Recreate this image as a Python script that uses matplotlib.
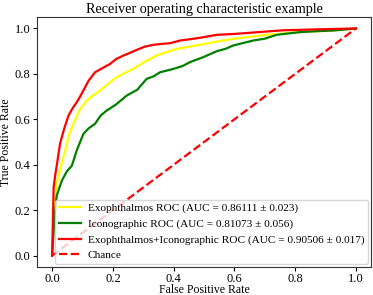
import numpy as np
import matplotlib.pyplot as plt

plt.rcParams['font.family'] = ['Liberation Serif', 'DejaVu Serif']

# ROC curves
fpr_exo = [0.0, 0.005, 0.015, 0.03, 0.043, 0.055, 0.070, 0.09, 0.114, 0.135, 0.158, 0.185, 0.213, 0.24,
           0.267, 0.30, 0.344, 0.38, 0.410, 0.45, 0.487, 0.54, 0.596, 0.65, 0.706, 0.76, 0.816, 0.87, 0.925, 1.0]
tpr_exo = [0.0, 0.18, 0.316, 0.40, 0.463, 0.53, 0.580, 0.64, 0.683, 0.705, 0.727, 0.757, 0.786, 0.805,
           0.822, 0.85, 0.881, 0.897, 0.910, 0.92, 0.928, 0.942, 0.954, 0.963, 0.972, 0.978, 0.984, 0.988, 0.991, 1.0]

fpr_ico = [0.0, 0.008, 0.015, 0.032, 0.048, 0.065, 0.081, 0.103, 0.120, 0.141, 0.160, 0.180, 0.21, 0.246,
           0.28, 0.311, 0.335, 0.355, 0.399, 0.43, 0.454, 0.498, 0.542, 0.57, 0.596, 0.662, 0.70, 0.739,
           0.816, 0.87, 0.925, 1.0]
tpr_ico = [0.0, 0.17, 0.264, 0.33, 0.37, 0.396, 0.463, 0.536, 0.56, 0.580, 0.617, 0.639, 0.665, 0.705,
           0.73, 0.778, 0.79, 0.807, 0.822, 0.835, 0.852, 0.874, 0.900, 0.91, 0.925, 0.947, 0.955, 0.972,
           0.984, 0.988, 0.991, 1.0]

fpr_comb = [0.0, 0.005, 0.010, 0.018, 0.026, 0.04, 0.054, 0.068, 0.081, 0.092, 0.103, 0.12, 0.141, 0.165,
            0.191, 0.21, 0.235, 0.255, 0.279, 0.305, 0.333, 0.36, 0.388, 0.421, 0.45, 0.487, 0.542, 0.60,
            0.651, 0.70, 0.761, 0.87, 1.0]
tpr_comb = [0.0, 0.30, 0.352, 0.42, 0.493, 0.56, 0.617, 0.65, 0.675, 0.70, 0.727, 0.77, 0.807, 0.825,
            0.844, 0.865, 0.881, 0.892, 0.906, 0.92, 0.928, 0.932, 0.935, 0.947, 0.952, 0.959, 0.972, 0.976,
            0.981, 0.986, 0.992, 0.996, 1.0]

labels = ['Exophthalmos ROC (AUC = 0.86111 \u00b1 0.023)',
          'Iconographic ROC (AUC = 0.81073 \u00b1 0.056)',
          'Exophthalmos+Iconographic ROC (AUC = 0.90506 \u00b1 0.017)',
          'Chance']

fig = plt.figure(figsize=(3.73, 2.95), dpi=100)
ax = fig.add_axes([0.099, 0.095, 0.896, 0.847])

ax.plot(fpr_exo, tpr_exo, color='yellow', lw=1.6, label=labels[0])
ax.plot(fpr_ico, tpr_ico, color='green', lw=1.6, label=labels[1])
ax.plot(fpr_comb, tpr_comb, color='red', lw=1.6, label=labels[2])
ax.plot([0, 1], [0, 1], color='red', ls='--', lw=1.6, label=labels[3])

ax.set_xlim(-0.05, 1.05)
ax.set_ylim(-0.05, 1.05)
ax.tick_params(labelsize=9, length=3, width=0.8, pad=1.5)
for s in ax.spines.values():
    s.set_color('#333333')
ax.set_xlabel('False Positive Rate', fontsize=8.5, labelpad=-1)
ax.set_ylabel('True Positive Rate', fontsize=8.5, labelpad=2)
ax.set_title('Receiver operating characteristic example', fontsize=10.2, pad=3)
ax.legend(loc='lower right', fontsize=8.1, borderaxespad=0.3, borderpad=0.3,
          handletextpad=0.6, labelspacing=0.5)

fig.savefig('out.png', dpi=100)
